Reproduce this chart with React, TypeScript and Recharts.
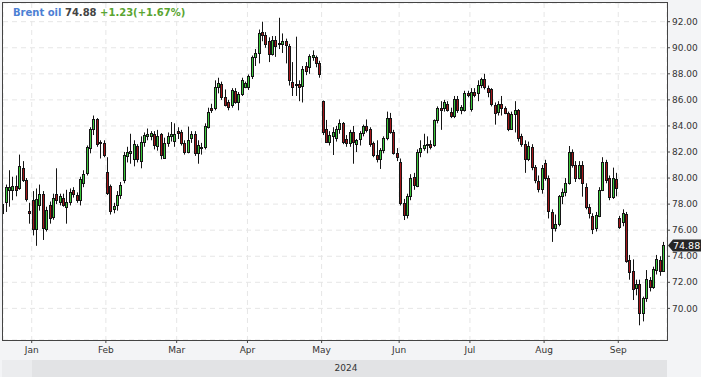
import React from 'react';
import { ComposedChart, Bar, XAxis, YAxis, CartesianGrid, ReferenceLine } from 'recharts';

// Daily candles, 18 Dec 2023 .. 19 Sep 2024 (index = trading-day slot)
const OPEN = [
  77.35, 78.2, 79.1, 79.1, 79.4, 79.2, 80.75, 79.85, 77.45,
  78.3, 76.1, 77.9, 78.8, 76.1, 77.9, 77.0, 78.8, 78.2, 78.5, 77.8, 78.2, 79.1, 78.7, 78.35, 79.6, 80.4, 82.3, 83.8, 84.5, 82.8, 82.7,
  80.5, 79.4, 77.6, 77.9, 78.7, 79.85, 81.7, 81.9, 81.45, 82.45, 81.3, 82.75, 83.2, 83.25, 83.4, 82.45, 83.38, 81.57, 82.66, 83.2, 82.87,
  83.6, 83.5, 82.66, 82.0, 83.05, 83.36, 81.9, 82.4, 82.4, 83.95, 85.4, 85.35, 87.0, 87.2, 86.25, 85.8, 85.6, 86.7, 85.86, 86.45, 87.0,
  86.96, 87.8, 89.3, 89.57, 91.2, 91.0, 90.5, 89.5, 90.6, 90.4, 90.3, 90.5, 90.1, 87.4, 87.2, 87.2, 87.1, 88.6, 88.5, 89.3, 89.3, 88.8,
  85.9, 83.74, 82.8, 83.2, 83.05, 83.74, 84.2, 83.0, 82.66, 83.5, 82.6, 82.97, 83.43, 84.0, 83.74, 82.66, 81.77, 81.46, 82.15, 83.05, 84.58, 83.56, 81.9,
  81.26, 78.1, 77.16, 78.6, 80.06, 79.4, 82.0, 82.3, 82.5, 82.6, 82.5, 84.46, 85.35, 85.35, 85.7, 85.1, 84.77, 86.1, 85.2, 85.2, 86.5,
  85.3, 86.6, 86.5, 87.14, 87.58, 86.9, 86.8, 85.6, 85.1, 85.7, 85.35, 84.97, 83.8, 84.9, 85.2, 83.2, 82.6, 81.5, 82.4, 80.87, 79.8, 79.14,
  81.13, 80.0, 77.4, 76.2, 76.5, 78.6, 78.96, 79.65, 82.0, 81.0, 80.0, 81.0, 79.34, 77.75, 77.1, 76.2, 77.1, 79.08, 81.26, 80.0, 78.57, 79.9,
  76.9, 76.65, 77.24, 73.71, 72.87, 71.6, 71.84, 69.67, 70.77, 72.17, 71.66, 72.95, 73.71, 72.9,
];
const HIGH = [
  78.3, 79.5, 80.6, 80.1, 80.2, 81.8, 81.3, 80.0, 78.1,
  79.0, 79.2, 79.5, 79.0, 77.8, 78.2, 78.8, 80.75, 78.8, 78.8, 79.1, 79.2, 79.3, 78.9, 80.1, 80.6, 82.5, 83.9, 84.8, 84.6, 82.9, 82.9,
  81.6, 79.5, 78.1, 79.0, 79.7, 82.0, 82.4, 83.4, 82.9, 82.6, 83.2, 83.5, 83.8, 83.6, 83.6, 83.7, 83.45, 83.1, 83.5, 84.3, 84.2,
  83.9, 83.7, 82.9, 83.95, 83.6, 83.6, 82.9, 82.7, 84.2, 85.4, 85.7, 87.5, 87.7, 87.4, 86.8, 86.0, 86.9, 86.9, 86.6, 87.7, 87.4,
  87.95, 89.4, 89.9, 91.4, 92.0, 91.2, 90.8, 90.9, 90.9, 92.3, 91.1, 90.7, 90.3, 88.9, 90.85, 87.5, 88.6, 88.9, 89.5, 89.8, 89.4, 89.0,
  85.95, 84.46, 83.6, 83.9, 84.0, 84.5, 84.3, 83.3, 83.7, 84.0, 83.0, 83.6, 84.1, 84.5, 83.9, 82.8, 82.9, 82.3, 83.2, 85.1, 85.0, 83.7, 82.3,
  81.5, 78.4, 78.8, 80.3, 80.4, 82.2, 82.9, 83.4, 83.2, 82.9, 84.5, 85.5, 85.9, 86.0, 85.9, 85.4, 86.3, 86.3, 85.6, 86.7, 86.7,
  86.9, 86.9, 87.5, 87.7, 88.0, 87.1, 86.9, 85.8, 85.9, 86.3, 85.5, 85.1, 85.1, 85.9, 85.3, 83.4, 82.9, 82.8, 82.6, 81.0, 80.2, 81.0,
  81.4, 80.2, 77.6, 77.2, 78.7, 79.2, 80.0, 82.46, 82.2, 81.3, 81.3, 81.3, 79.6, 78.0, 77.3, 77.4, 79.3, 81.6, 81.4, 80.2, 80.8, 80.4,
  77.1, 77.6, 77.4, 74.1, 73.76, 72.2, 72.2, 70.9, 72.94, 72.4, 73.2, 74.1, 74.0, 75.1,
];
const LOW = [
  75.8, 77.4, 77.8, 78.3, 78.6, 79.1, 79.7, 78.2, 76.5,
  75.6, 74.8, 77.5, 75.25, 75.9, 76.5, 76.8, 78.0, 77.9, 77.8, 76.5, 77.9, 78.5, 78.1, 77.9, 79.3, 80.2, 81.9, 83.3, 82.4, 81.5, 81.6,
  78.7, 77.2, 77.3, 77.5, 78.4, 79.6, 81.2, 81.1, 80.9, 81.2, 80.75, 82.4, 82.9, 82.9, 82.2, 82.1, 81.44, 81.5, 82.4, 82.8, 82.4,
  83.0, 82.5, 81.8, 81.9, 82.7, 81.7, 81.1, 81.8, 82.2, 83.8, 85.0, 85.2, 86.5, 86.0, 85.5, 85.2, 85.4, 85.7, 85.2, 86.3, 86.9,
  86.76, 87.6, 88.6, 88.8, 90.5, 90.0, 88.9, 89.4, 89.3, 89.9, 89.6, 88.8, 87.1, 86.3, 86.3, 85.9, 85.8, 87.9, 88.0, 89.0, 88.5, 87.7,
  83.3, 82.7, 82.5, 81.77, 82.8, 83.4, 82.6, 82.4, 82.4, 81.1, 82.0, 82.5, 83.2, 83.5, 82.4, 81.6, 81.2, 80.7, 81.9, 82.9, 83.4, 81.8, 81.3,
  77.9, 76.78, 76.9, 78.3, 79.1, 79.3, 81.6, 82.1, 81.9, 82.2, 82.4, 84.2, 83.7, 85.1, 85.1, 84.6, 84.6, 85.0, 84.9, 85.1, 86.2,
  85.1, 86.2, 85.9, 86.9, 86.8, 86.2, 85.5, 84.1, 84.8, 84.8, 84.9, 83.6, 83.7, 83.5, 82.8, 82.4, 80.4, 81.3, 80.6, 79.6, 78.9, 78.8,
  79.8, 76.9, 75.1, 75.9, 76.3, 78.0, 78.6, 79.5, 80.8, 79.7, 79.9, 78.57, 77.6, 76.9, 75.7, 75.9, 77.0, 79.0, 79.6, 78.3, 78.4, 78.6,
  76.1, 76.3, 73.5, 72.2, 70.64, 71.0, 68.7, 69.0, 70.5, 71.3, 71.5, 72.6, 72.5, 72.8,
];
const CLOSE = [
  78.0, 79.3, 79.3, 79.4, 79.1, 80.9, 79.85, 78.4, 77.3,
  76.1, 78.4, 78.8, 76.2, 77.55, 76.9, 78.5, 78.3, 78.6, 77.95, 78.2, 78.95, 78.8, 78.3, 79.9, 80.3, 82.35, 83.8, 84.5, 82.6, 82.7, 81.8,
  78.85, 77.5, 77.85, 78.7, 79.5, 81.8, 82.0, 82.1, 82.65, 81.45, 82.8, 83.3, 83.4, 83.45, 82.5, 83.2, 81.77, 82.66, 83.2, 83.4, 83.36,
  83.43, 82.7, 82.03, 82.9, 83.4, 81.95, 82.5, 82.3, 84.0, 85.1, 85.2, 87.0, 87.3, 86.2, 85.6, 85.45, 86.76, 85.86, 86.45, 87.5, 87.3,
  87.8, 89.3, 89.57, 91.1, 91.0, 90.3, 89.5, 90.6, 90.1, 90.3, 90.5, 90.2, 87.5, 87.0, 87.25, 87.0, 88.4, 88.2, 89.37, 89.45, 88.8, 88.0,
  83.5, 82.8, 83.3, 83.56, 83.74, 84.2, 82.8, 82.7, 83.5, 82.8, 82.9, 83.43, 84.0, 83.7, 82.6, 81.77, 81.5, 82.15, 83.05, 84.58, 83.56, 81.95, 81.65,
  78.1, 77.16, 78.6, 79.98, 79.47, 82.0, 82.3, 82.5, 82.6, 82.4, 84.46, 85.35, 85.2, 85.8, 85.25, 84.75, 86.1, 85.2, 85.45, 86.5, 86.4,
  86.63, 86.4, 87.14, 87.58, 87.0, 86.6, 85.7, 85.0, 85.7, 85.35, 85.0, 83.8, 84.9, 85.2, 83.05, 82.6, 81.5, 82.46, 80.87, 79.85, 79.14, 80.75,
  80.0, 77.47, 76.14, 76.5, 78.6, 78.96, 79.65, 82.0, 81.0, 80.0, 81.0, 79.65, 77.75, 77.3, 76.07, 77.2, 79.08, 81.26, 79.85, 78.57, 80.0, 79.2,
  76.27, 77.3, 73.66, 72.8, 71.46, 71.84, 69.67, 70.77, 72.23, 71.66, 72.99, 73.76, 72.9, 74.88,
];

const MONTH_LABELS = ['Jan', 'Feb', 'Mar', 'Apr', 'May', 'Jun', 'Jul', 'Aug', 'Sep'];
const MONTH_FIRST_INDEX = [9, 31, 52, 73, 95, 118, 139, 161, 183];
const PRICE_TICKS = [70, 72, 74, 76, 78, 80, 82, 84, 86, 88, 90, 92];
const YEAR_LABEL = '2024';
const TITLE_NAME = 'Brent oil';
const TITLE_LAST = '74.88';
const TITLE_CHANGE = '+1.23(+1.67%)';

const FONT = '"DejaVu Sans", Verdana, sans-serif';
const GREEN = '#3cc83c';
const RED = '#a3161a';
const EDGE = '#151515';

const candles = OPEN.map((o, i) => ({
  i,
  o,
  h: HIGH[i],
  l: LOW[i],
  c: CLOSE[i],
  range: [LOW[i], HIGH[i]],
}));

const monthTicks = MONTH_FIRST_INDEX.map((v) => v - 0.5);
const monthName = (v: number) => {
  const k = monthTicks.findIndex((t) => Math.abs(t - v) < 0.01);
  return k >= 0 ? MONTH_LABELS[k] : '';
};

const Candle = (props: any) => {
  const { x, y, width, height, payload } = props;
  if (!payload || height == null) return null;
  const { o, h, l, c } = payload;
  const cx = Math.floor(x + width / 2);
  const k = h > l ? height / (h - l) : 0;
  const yo = y + (h - o) * k;
  const yc = y + (h - c) * k;
  const top = Math.round(Math.min(yo, yc));
  const bot = Math.round(Math.max(yo, yc));
  const up = c >= o;
  return (
    <g>
      <line x1={cx + 0.5} x2={cx + 0.5} y1={y} y2={y + height} stroke={EDGE} strokeWidth={1} />
      <rect
        x={cx - 0.5}
        y={top + 0.5}
        width={2}
        height={Math.max(1, bot - top)}
        fill={up ? GREEN : RED}
        stroke={EDGE}
        strokeWidth={1}
      />
    </g>
  );
};

const PriceTag = (props: any) => {
  const vb = props.viewBox || {};
  const x = (vb.x || 0) + (vb.width || 0);
  const y = Math.round(vb.y || 0) + 0.5;
  return (
    <g>
      <path
        d={`M${x + 1},${y} L${x + 6},${y - 6} L${x + 34},${y - 6} L${x + 34},${y + 6} L${x + 6},${y + 6} Z`}
        fill="#262626"
      />
      <text x={x + 6} y={y} dy="0.36em" fill="#ffffff" fontSize={9.5} fontFamily={FONT}>
        {CLOSE[CLOSE.length - 1].toFixed(2)}
      </text>
    </g>
  );
};

export default function App() {
  return (
    <div
      style={{
        position: 'absolute',
        left: 0,
        top: 0,
        width: 701,
        height: 377,
        background: '#f3f4f6',
        fontFamily: FONT,
        overflow: 'hidden',
      }}
    >
      <div style={{ position: 'absolute', left: 2, top: 360, width: 30, height: 17, background: '#ebecee' }} />
      <div style={{ position: 'absolute', left: 32, top: 360, width: 635, height: 17, background: '#e2e3e5' }} />
      <div
        style={{
          position: 'absolute',
          left: 296,
          width: 100,
          top: 362,
          textAlign: 'center',
          fontSize: 9,
          lineHeight: '12px',
          color: '#333',
        }}
      >
        {YEAR_LABEL}
      </div>
      <div style={{ position: 'absolute', left: 0, top: 0 }}>
        <ComposedChart
          width={701}
          height={377}
          data={candles}
          margin={{ top: 3, left: 3, right: 0, bottom: 7 }}
        >
          <CartesianGrid stroke="#e6e6e6" strokeDasharray="5 4" fill="#ffffff" fillOpacity={1} />
          <XAxis
            type="number"
            dataKey="i"
            domain={[-0.018, 196.96]}
            allowDataOverflow
            ticks={monthTicks}
            interval={0}
            tickFormatter={monthName}
            height={30}
            axisLine={false}
            tickLine={{ stroke: '#444' }}
            tickSize={3}
            tickMargin={4}
            tick={{ fontSize: 9, fill: '#333', fontFamily: FONT }}
          />
          <YAxis
            orientation="right"
            type="number"
            domain={[67.572, 93.435]}
            allowDataOverflow
            ticks={PRICE_TICKS}
            interval={0}
            tickFormatter={(v: number) => v.toFixed(2)}
            width={34}
            axisLine={false}
            tickLine={{ stroke: '#444' }}
            tickSize={3}
            tickMargin={2}
            tick={{ fontSize: 9, fill: '#333', fontFamily: FONT }}
          />
          <Bar dataKey="range" barSize={3} shape={<Candle />} isAnimationActive={false} />
          <ReferenceLine
            y={CLOSE[CLOSE.length - 1]}
            stroke="none"
            ifOverflow="visible"
            label={<PriceTag />}
          />
        </ComposedChart>
      </div>
      <div
        style={{
          position: 'absolute',
          left: 2,
          top: 2,
          width: 666,
          height: 339,
          boxSizing: 'border-box',
          border: '1px solid #444',
          pointerEvents: 'none',
        }}
      />
      <div
        style={{
          position: 'absolute',
          left: 13,
          top: 7,
          fontSize: 10,
          lineHeight: '12px',
          fontWeight: 'bold',
          whiteSpace: 'nowrap',
        }}
      >
        <span style={{ color: '#4c7fd4' }}>{TITLE_NAME}</span>{' '}
        <span style={{ color: '#444' }}>{TITLE_LAST}</span>{' '}
        <span style={{ color: '#5aa532' }}>{TITLE_CHANGE}</span>
      </div>
    </div>
  );
}
